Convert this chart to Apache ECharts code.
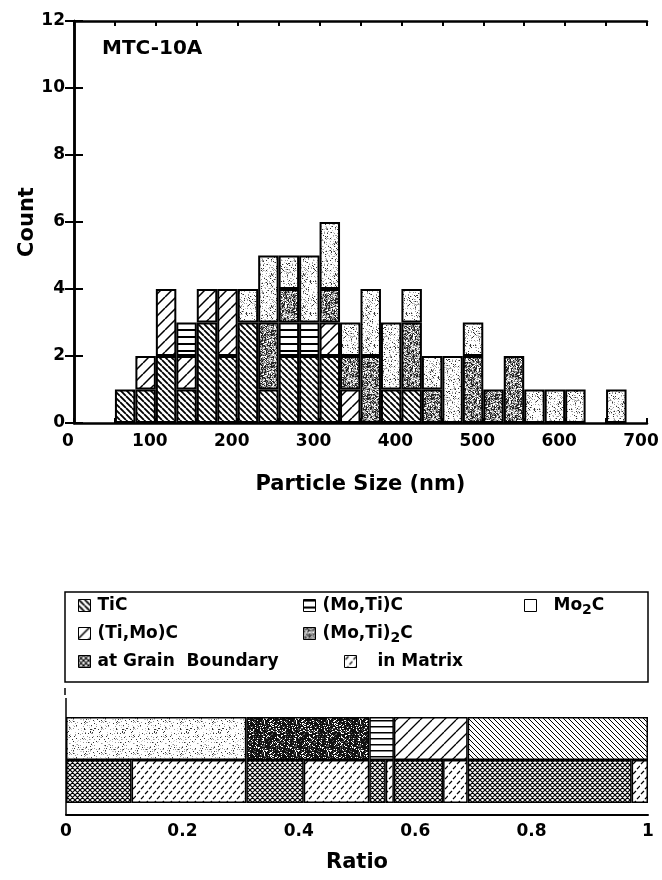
<!DOCTYPE html>
<html>
<head>
<meta charset="utf-8">
<script src="https://cdn.jsdelivr.net/npm/echarts@6/dist/echarts.min.js"></script>
<style>
  html, body { margin: 0; padding: 0; background: #fff; }
  #chart { width: 662px; height: 880px; }
</style>
</head>
<body>
<div id="chart"></div>
<script>
// ---------------- data ----------------
// Particle-size bins: lower edge in nm, each bin 25 nm wide (0 .. 700 nm)
const binStarts = [0, 25, 50, 75, 100, 125, 150, 175, 200, 225, 250, 275, 300, 325,
                   350, 375, 400, 425, 450, 475, 500, 525, 550, 575, 600, 625, 650, 675];

// Particle counts per bin for each carbide phase (stacked bottom to top)
const ticCounts    = [0,0,1,1,2,1,3,2,3,1,2,2,2,0,0,1,1,0,0,0,0,0,0,0,0,0,0,0];
const tiMoCCounts  = [0,0,0,1,2,1,1,2,0,0,0,0,1,1,0,0,0,0,0,0,0,0,0,0,0,0,0,0];
const moTiCCounts  = [0,0,0,0,0,1,0,0,0,0,1,1,0,0,0,0,0,0,0,0,0,0,0,0,0,0,0,0];
const moTi2CCounts = [0,0,0,0,0,0,0,0,0,2,1,0,1,1,2,0,2,1,0,2,1,2,0,0,0,0,0,0];
const mo2CCounts   = [0,0,0,0,0,0,0,0,1,2,1,2,2,1,2,2,1,1,2,1,0,0,1,1,1,0,1,0];

const phaseNames = ['TiC', '(Ti,Mo)C', '(Mo,Ti)C', '(Mo,Ti)2C', 'Mo2C'];

// Ratio panel: phases in left-to-right order, split by particle location
const ratioPhases    = ['Mo2C', '(Mo,Ti)2C', '(Mo,Ti)C', '(Ti,Mo)C', 'TiC'];
const boundaryCounts = [8, 7, 2, 6, 20];
const matrixCounts   = [14, 8, 1, 3, 2];
const siteNames      = ['at Grain  Boundary', 'in Matrix'];

// ---------------- fill patterns ----------------
const FONT = '"DejaVu Sans", "Liberation Sans", Arial, sans-serif';

function tile(w, h, draw) {
  const c = document.createElement('canvas');
  c.width = w; c.height = h;
  const ctx = c.getContext('2d');
  ctx.fillStyle = '#fff';
  ctx.fillRect(0, 0, w, h);
  draw(ctx);
  return { image: c, repeat: 'repeat' };
}
function hash2(x, y, seed) {
  let h = (Math.imul(x, 374761393) + Math.imul(y, 668265263) + Math.imul(seed, 1442695041)) | 0;
  h = Math.imul(h ^ (h >>> 13), 1274126177);
  h ^= h >>> 16;
  return (h >>> 0) / 4294967296;
}
function stipple(size, seed, levels) {
  return tile(size, size, ctx => {
    for (let y = 0; y < size; y++) {
      for (let x = 0; x < size; x++) {
        const v = hash2(x, y, seed);
        for (const [t, c] of levels) {
          if (v < t) { ctx.fillStyle = c; ctx.fillRect(x, y, 1, 1); break; }
        }
      }
    }
  });
}
// dir = 1 draws "\" lines, dir = -1 draws "/" lines
function diag(p, lw, dir) {
  return tile(p, p, ctx => {
    ctx.strokeStyle = '#000'; ctx.lineWidth = lw; ctx.beginPath();
    for (let k = -1; k <= 1; k++) {
      if (dir > 0) { ctx.moveTo(k * p, 0); ctx.lineTo(k * p + p, p); }
      else { ctx.moveTo(k * p, p); ctx.lineTo(k * p + p, 0); }
    }
    ctx.stroke();
  });
}
function horiz(p, lw) {
  return tile(4, p, ctx => { ctx.fillStyle = '#000'; ctx.fillRect(0, 0, 4, lw); });
}
function crossHatch(p, lw) {
  return tile(p, p, ctx => {
    ctx.strokeStyle = '#000'; ctx.lineWidth = lw; ctx.beginPath();
    for (let k = -1; k <= 1; k++) {
      ctx.moveTo(k * p, 0); ctx.lineTo(k * p + p, p);
      ctx.moveTo(k * p, p); ctx.lineTo(k * p + p, 0);
    }
    ctx.stroke();
  });
}
function dashes() {
  return tile(8, 10, ctx => {
    ctx.strokeStyle = '#000'; ctx.lineWidth = 1.2; ctx.beginPath();
    ctx.moveTo(1, 4); ctx.lineTo(4, 1);
    ctx.moveTo(5, 9); ctx.lineTo(8, 6);
    ctx.stroke();
  });
}

const histFill = {
  'TiC': diag(6, 1.8, 1),
  '(Ti,Mo)C': diag(11, 1.5, -1),
  '(Mo,Ti)C': horiz(7, 2),
  '(Mo,Ti)2C': stipple(32, 3, [[0.3, '#222'], [0.55, '#777'], [0.82, '#bbb']]),
  'Mo2C': stipple(32, 7, [[0.07, '#333'], [0.16, '#999'], [0.22, '#ccc']])
};
const ratioFill = {
  'TiC': diag(5, 1, 1),
  '(Ti,Mo)C': diag(12, 1.3, -1),
  '(Mo,Ti)C': horiz(6, 1.5),
  '(Mo,Ti)2C': stipple(32, 11, [[0.72, '#111'], [0.85, '#555']]),
  'Mo2C': stipple(32, 5, [[0.04, '#333'], [0.1, '#999'], [0.15, '#ccc']])
};
const siteFill = [crossHatch(5, 1.2), dashes()];

// ---------------- series ----------------
const phaseCounts = [ticCounts, tiMoCCounts, moTiCCounts, moTi2CCounts, mo2CCounts];
const sum = a => a.reduce((s, v) => s + v, 0);
const grandTotal = sum(phaseCounts.map(sum));

const series = [];
phaseNames.forEach((name, i) => {
  series.push({
    name, type: 'bar', stack: 'count', xAxisIndex: 0, yAxisIndex: 0,
    barCategoryGap: '0%',
    itemStyle: { color: histFill[name], borderColor: '#000', borderWidth: 2 },
    emphasis: { disabled: true },
    data: phaseCounts[i].map(v => (v === 0 ? '-' : v))
  });
});

// top row of the ratio bar: share of each phase
ratioPhases.forEach(name => {
  const total = sum(phaseCounts[phaseNames.indexOf(name)]);
  series.push({
    name, type: 'bar', stack: 'ratio', xAxisIndex: 3, yAxisIndex: 2,
    barCategoryGap: '0%',
    itemStyle: { color: ratioFill[name], borderColor: '#000', borderWidth: 1.5 },
    emphasis: { disabled: true },
    data: ['-', total / grandTotal]
  });
});
// bottom row: each phase split into grain-boundary and matrix particles
ratioPhases.forEach((name, i) => {
  [boundaryCounts[i], matrixCounts[i]].forEach((c, s) => {
    series.push({
      name: siteNames[s], type: 'bar', stack: 'ratio', xAxisIndex: 3, yAxisIndex: 2,
      barCategoryGap: '0%',
      itemStyle: { color: siteFill[s], borderColor: '#000', borderWidth: 1.5 },
      emphasis: { disabled: true },
      data: [c / grandTotal, '-']
    });
  });
});

// ---------------- legend ----------------
const rich = {
  t: { fontFamily: FONT, fontSize: 17, fontWeight: 'bold', color: '#000', lineHeight: 24 },
  s: { fontFamily: FONT, fontSize: 14, fontWeight: 'bold', color: '#000', padding: [10, 0, 0, 0] }
};
function legendText(n) {
  const m = n.match(/^(.*)2C$/);
  if (m) return '{t|' + m[1] + '}{s|2}{t|C}';
  return '{t|' + n + '}';
}
const legendSlots = [
  { name: 'TiC', left: 78, top: 597, gap: 2 },
  { name: '(Ti,Mo)C', left: 78, top: 625, gap: 2 },
  { name: 'at Grain  Boundary', left: 78, top: 653, gap: 2 },
  { name: '(Mo,Ti)C', left: 303, top: 597, gap: 2 },
  { name: '(Mo,Ti)2C', left: 303, top: 625, gap: 2 },
  { name: 'in Matrix', left: 344, top: 653, gap: 16 },
  { name: 'Mo2C', left: 524, top: 597, gap: 12 }
];
const legends = legendSlots.map(sl => ({
  data: [sl.name === 'Mo2C' ? { name: 'Mo2C', itemStyle: { color: '#fff' } } : sl.name],
  left: sl.left, top: sl.top, padding: 0,
  icon: 'rect', itemWidth: 12, itemHeight: 12,
  selectedMode: false,
  itemStyle: { borderColor: '#000', borderWidth: 1 },
  formatter: legendText,
  textStyle: { padding: [0, 0, 0, sl.gap], rich }
}));

// ---------------- axes ----------------
const axisLine = { show: true, lineStyle: { color: '#000', width: 2.5 } };
const tickLabel = { fontFamily: FONT, fontSize: 17, fontWeight: 'bold', color: '#000' };
const nameStyle = { fontFamily: FONT, fontSize: 21, fontWeight: 'bold', color: '#000' };

const option = {
  animation: false,
  backgroundColor: '#fff',
  title: {
    text: 'MTC-10A', left: 97, top: 34,
    textStyle: { fontFamily: FONT, fontSize: 20, fontWeight: 'bold', color: '#000' }
  },
  legend: legends,
  grid: [
    { left: 74, right: 15, top: 21, height: 402 },
    { left: 66, right: 14, top: 717, height: 86 }
  ],
  xAxis: [
    { gridIndex: 0, type: 'category', data: binStarts.map(String), show: false, boundaryGap: true },
    {
      gridIndex: 0, type: 'value', position: 'bottom', min: 0, max: 700, interval: 50,
      axisLine, splitLine: { show: false },
      axisTick: { inside: true, length: 5, lineStyle: { width: 2 } },
      axisLabel: Object.assign({
        margin: 10, padding: [0, 12, 0, 0],
        formatter: v => (v % 100 === 0 ? String(v) : '')
      }, tickLabel),
      name: 'Particle Size (nm)', nameLocation: 'middle', nameGap: 51, nameTextStyle: nameStyle,
      nameMoveOverlap: false
    },
    {
      gridIndex: 0, type: 'value', position: 'top', min: 0, max: 700, interval: 50,
      axisLine, splitLine: { show: false },
      axisTick: { inside: true, length: 5, lineStyle: { width: 2 } },
      axisLabel: { show: false }
    },
    {
      gridIndex: 1, type: 'value', position: 'bottom', min: 0, max: 1, interval: 0.2, offset: 12,
      axisLine: { show: true, lineStyle: { color: '#000', width: 2 } },
      splitLine: { show: false },
      axisTick: { inside: true, length: 9, lineStyle: { width: 2 } },
      axisLabel: Object.assign({ margin: 8 }, tickLabel),
      name: 'Ratio', nameLocation: 'middle', nameGap: 37, nameTextStyle: nameStyle,
      nameMoveOverlap: false
    }
  ],
  yAxis: [
    {
      gridIndex: 0, type: 'value', position: 'left', min: 0, max: 12, interval: 2,
      axisLine, splitLine: { show: false },
      axisTick: { inside: true, length: 9, lineStyle: { width: 2 } },
      axisLabel: Object.assign({ margin: 9 }, tickLabel),
      name: 'Count', nameLocation: 'middle', nameGap: 36, nameTextStyle: nameStyle,
      nameMoveOverlap: false
    },
    {
      gridIndex: 0, type: 'value', position: 'right', min: 0, max: 12, interval: 2,
      axisLine, splitLine: { show: false },
      axisTick: { inside: true, length: 9, lineStyle: { width: 2 } },
      axisLabel: { show: false }
    },
    {
      gridIndex: 1, type: 'category', data: ['site', 'phase'],
      axisLine: { show: false }, axisTick: { show: false }, axisLabel: { show: false }
    }
  ],
  graphic: [
    { type: 'rect', shape: { x: 65, y: 592, width: 583, height: 90 },
      style: { fill: 'none', stroke: '#000', lineWidth: 1.5 } },
    { type: 'line', shape: { x1: 66, y1: 698, x2: 66, y2: 815 },
      style: { stroke: '#000', lineWidth: 1.5 } },
    { type: 'line', shape: { x1: 65, y1: 688, x2: 65, y2: 695 },
      style: { stroke: '#000', lineWidth: 1.5 } }
  ],
  series
};

const chart = echarts.init(document.getElementById('chart'), null, { renderer: 'canvas' });
chart.setOption(option);
</script>
</body>
</html>
